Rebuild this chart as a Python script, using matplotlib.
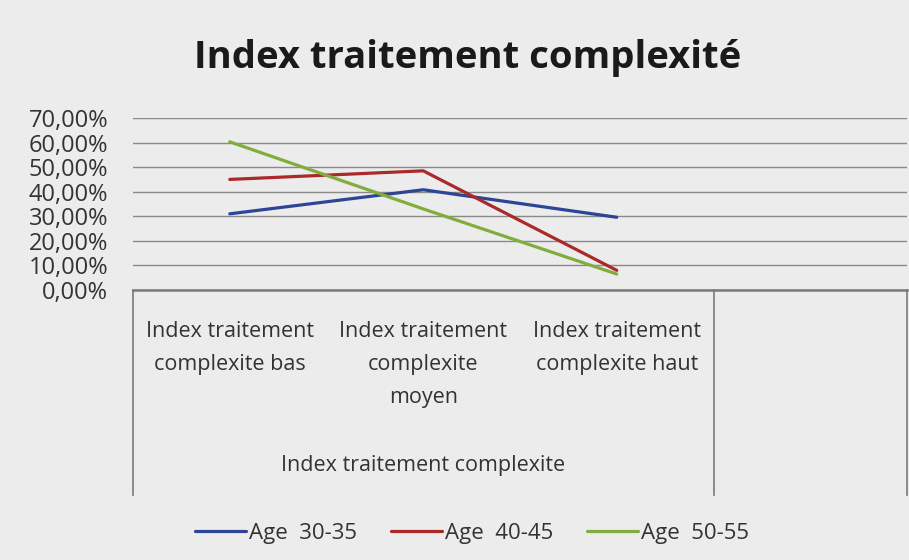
import matplotlib.pyplot as plt
import matplotlib.transforms as mtransforms
from matplotlib.ticker import FuncFormatter

# data (percent)
categories = ["Index traitement\ncomplexite bas",
              "Index traitement\ncomplexite\nmoyen",
              "Index traitement\ncomplexite haut",
              ""]
group_label = "Index traitement complexite"
age_30_35 = [31.0, 40.8, 29.6]
age_40_45 = [45.0, 48.5, 8.0]
age_50_55 = [60.3, 33.0, 6.5]
series_names = ["Age  30-35", "Age  40-45", "Age  50-55"]
colors = ["#2d4596", "#aa2a2a", "#82ad3c"]
yticks = [0, 10, 20, 30, 40, 50, 60, 70]

W, H = 909, 560
bg = "#ececec"
txt = "#333333"
plt.rcParams["font.family"] = ["Open Sans", "DejaVu Sans"]

fig = plt.figure(figsize=(W / 100, H / 100), dpi=100, facecolor=bg)
ax = fig.add_axes([133 / W, 1 - 290 / H, (907 - 133) / W, (290 - 118) / H])
ax.set_facecolor(bg)

x = [1, 2, 3]
for vals, name, c in zip([age_30_35, age_40_45, age_50_55], series_names, colors):
    ax.plot(x, vals, color=c, lw=2.3, label=name, solid_capstyle="round")

ax.set_xlim(0.5, 4.5)
ax.set_ylim(0, 70)
ax.set_yticks(yticks)
ax.yaxis.set_major_formatter(FuncFormatter(lambda v, p: f"{v:.2f}%".replace(".", ",")))
ax.grid(axis="y", color="#8a8a8a", lw=1.0)
ax.set_axisbelow(True)
for s in ["top", "right", "left"]:
    ax.spines[s].set_visible(False)
ax.spines["bottom"].set_color("#7a7a7a")
ax.spines["bottom"].set_linewidth(1.8)
ax.tick_params(axis="y", length=0, pad=18, labelsize=17, labelcolor=txt)

ax.set_xticks([1, 2, 3, 4])
ax.set_xticklabels(categories, fontsize=15.5, color=txt, linespacing=1.75)
ax.tick_params(axis="x", length=0, pad=22)

# multi-level category box
tr = mtransforms.blended_transform_factory(ax.transData, fig.transFigure)
y_top, y_bot = 1 - 290 / H, 1 - 495 / H
for xv in [0.5, 3.5, 4.5]:
    ax.plot([xv, xv], [y_top, y_bot], transform=tr, color="#7a7a7a", lw=1.2, clip_on=False)
ax.text(2.0, 1 - 465 / H, group_label, transform=tr, ha="center", va="center",
        fontsize=15.5, color=txt)

fig.text(468 / W, 1 - 58 / H, "Index traitement complexité", ha="center", va="center",
         fontsize=27.5, fontweight="bold", color="#1a1a1a")

leg = fig.legend(loc="center", bbox_to_anchor=(472 / W, 1 - 533 / H), ncol=3,
                 frameon=False, fontsize=16, handlelength=2.3, handletextpad=0.15,
                 columnspacing=1.5)
for t in leg.get_texts():
    t.set_color(txt)

fig.savefig("out.png", dpi=100, facecolor=bg)
